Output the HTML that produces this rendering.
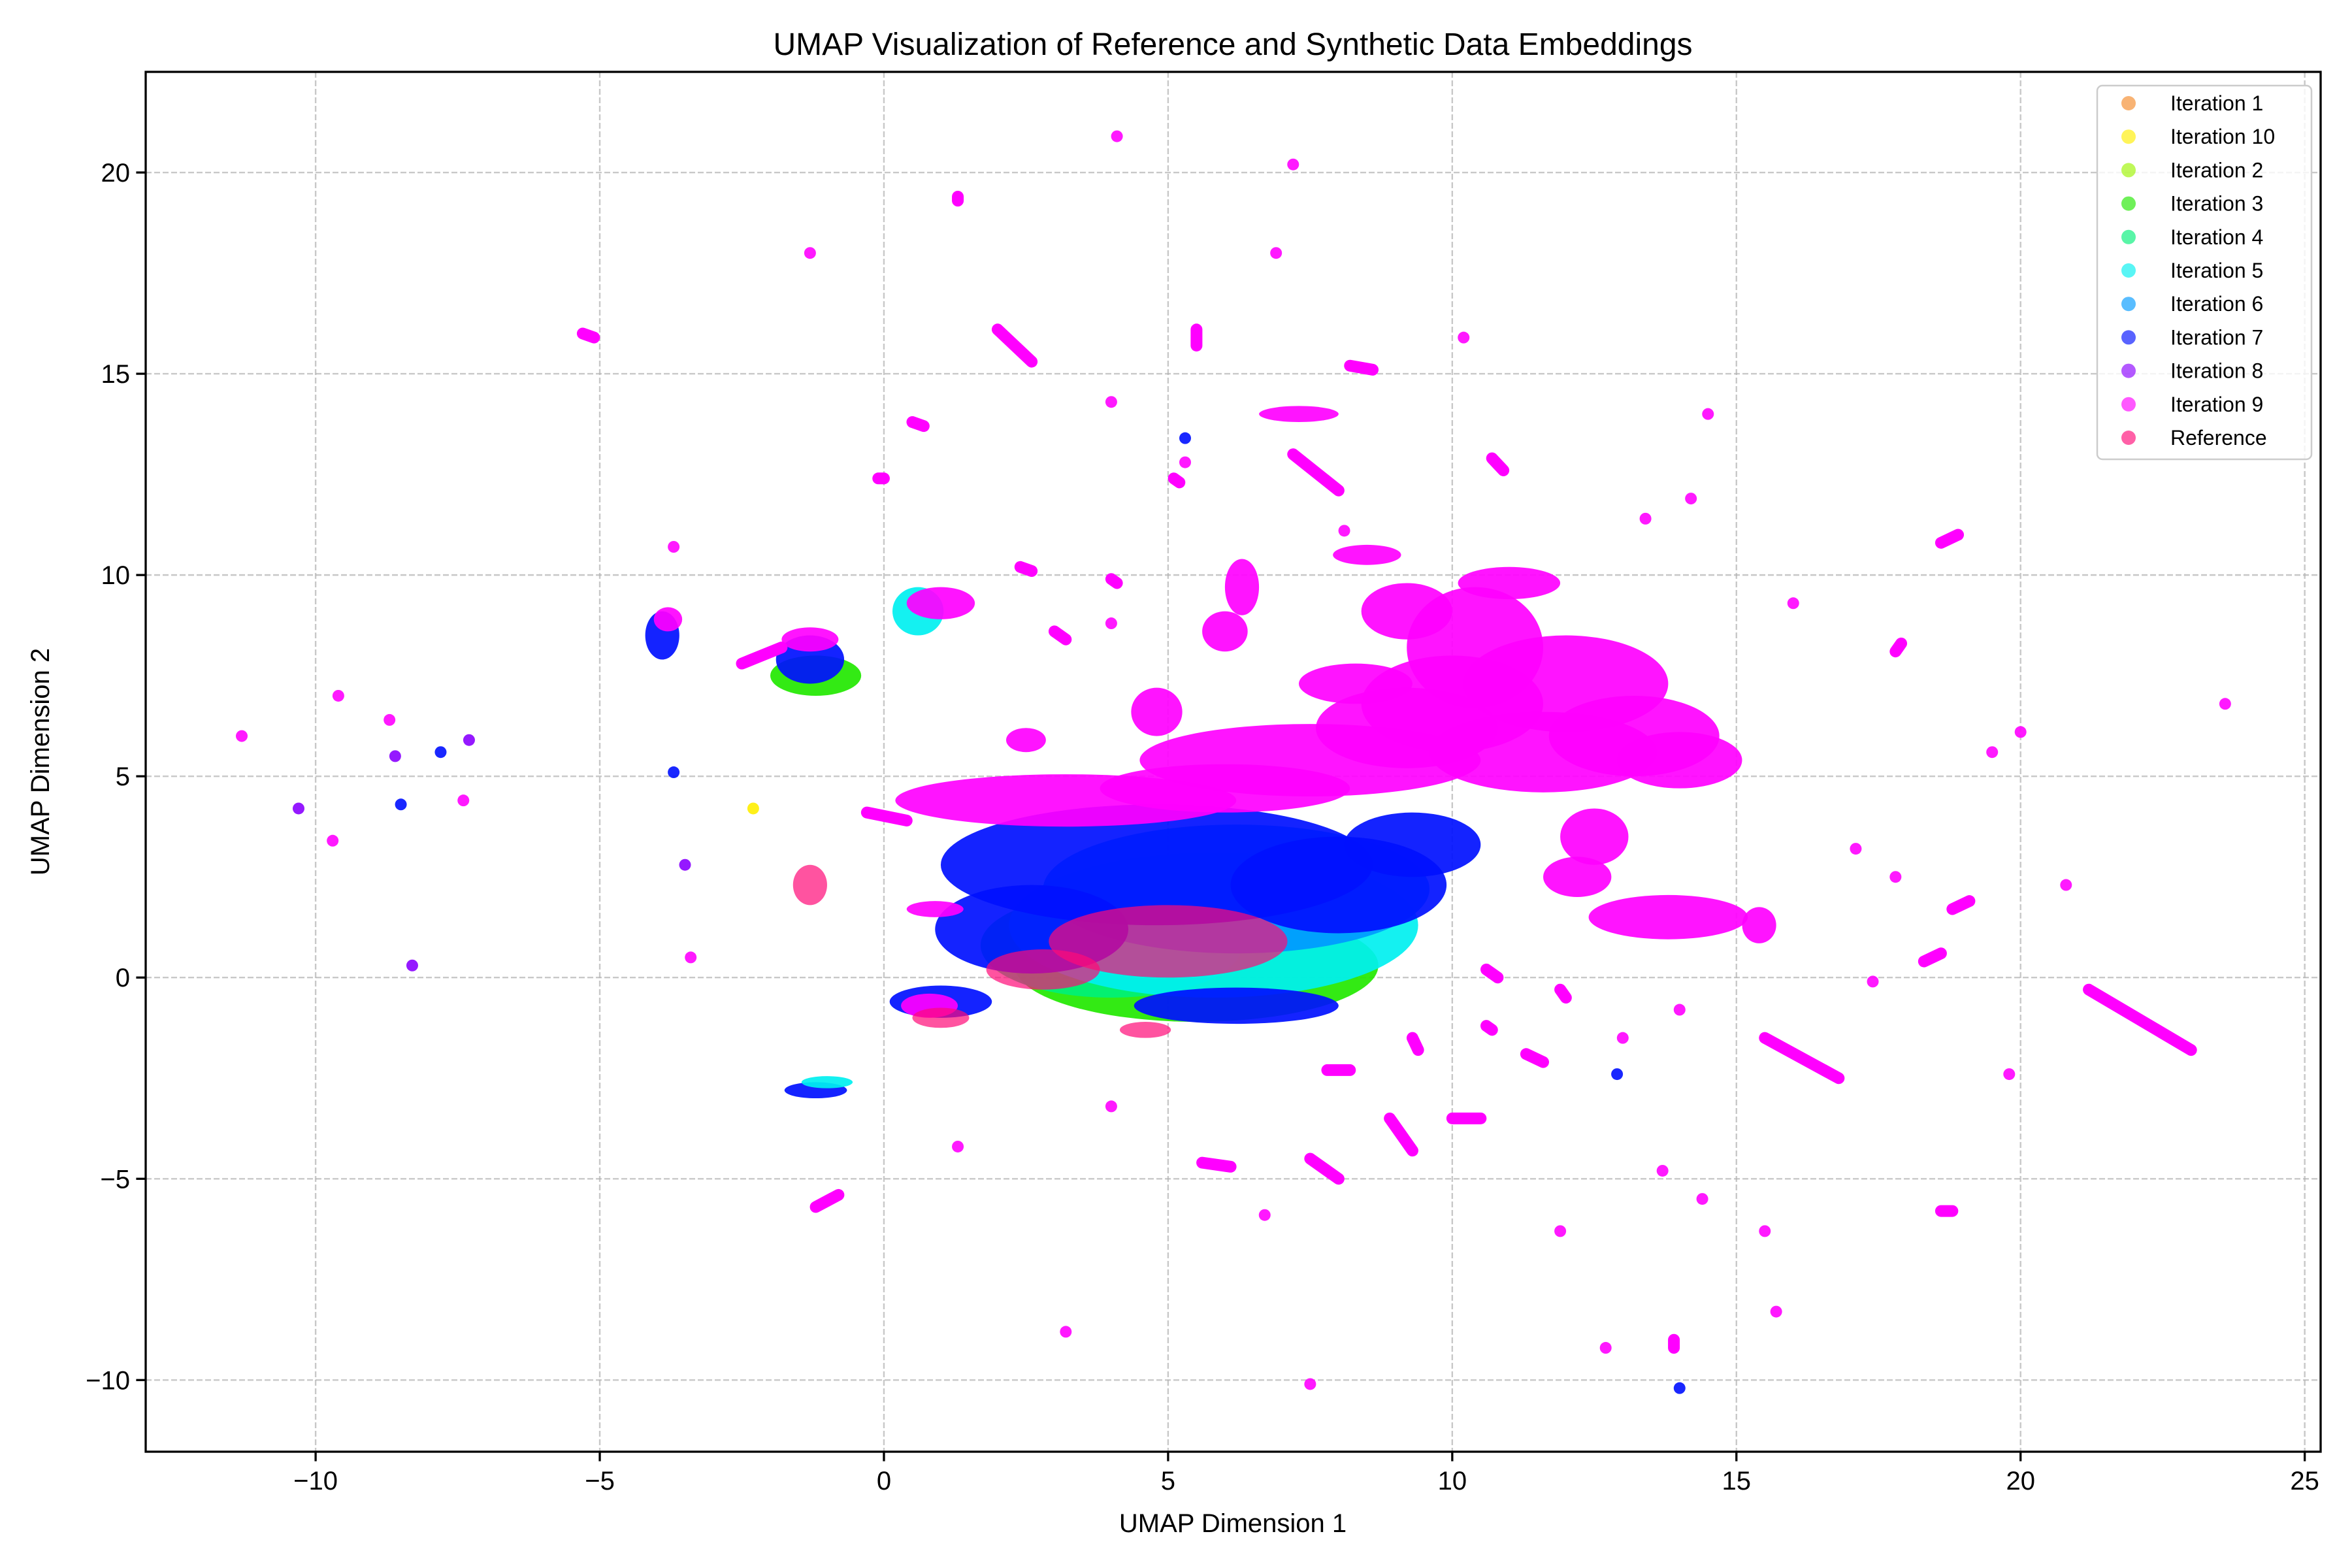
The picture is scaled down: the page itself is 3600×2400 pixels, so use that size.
<!DOCTYPE html>
<html><head><meta charset="utf-8">
<style>
html,body{margin:0;padding:0;background:#fff;}
svg{display:block;font-family:"Liberation Sans","DejaVu Sans",sans-serif;}
</style></head>
<body>
<svg id="chart" width="3600" height="2400" viewBox="0 0 3600 2400" xmlns="http://www.w3.org/2000/svg">
<rect x="0" y="0" width="3600" height="2400" fill="#fff"/>
<g id="grid"></g>
<g id="marks"></g>
<rect x="223" y="110" width="3329" height="2112" fill="none" stroke="#000" stroke-width="3.3"/>
<g id="axes"></g>
<text x="1887" y="84" text-anchor="middle" font-size="48">UMAP Visualization of Reference and Synthetic Data Embeddings</text>
<text x="1887" y="2345" text-anchor="middle" font-size="40">UMAP Dimension 1</text>
<text x="75" y="1166" text-anchor="middle" font-size="40" transform="rotate(-90 75 1166)">UMAP Dimension 2</text>
<g id="legend"></g>
</svg>
<script>
const xTicks=[-10,-5,0,5,10,15,20,25];
const yTicks=[-10,-5,0,5,10,15,20];
const seriesNames=["Iteration 1","Iteration 10","Iteration 2","Iteration 3","Iteration 4","Iteration 5","Iteration 6","Iteration 7","Iteration 8","Iteration 9","Reference"];
const seriesColors=["#f58a2a","#ffee00","#9cf500","#22e800","#00f078","#00f0f0","#0099ff","#0010ff","#8a00ff","#ff00ff","#ff0a78"];
// dense cluster regions: [seriesIndex, cx, cy, rx, ry]
const clusters=[
[3,5.5,0.3,3.2,1.4],[4,4,0.8,2.3,1.3],[5,5.8,1.3,3.6,1.8],[6,6.2,2.2,3.4,1.6],
[7,4.8,2.8,3.8,1.5],[7,8,2.3,1.9,1.2],[7,2.6,1.2,1.7,1.1],[7,6.2,-0.7,1.8,0.45],
[7,9.3,3.3,1.2,0.8],[7,1,-0.6,0.9,0.4],
[9,3.2,4.4,3,0.65],[9,6,4.7,2.2,0.6],[9,7.5,5.4,3,0.9],[9,9.2,6.2,1.6,1],[9,10,6.8,1.6,1.2],[9,10.4,8.2,1.2,1.5],
[9,12,7.3,1.8,1.2],[9,11.6,5.6,2,1],[9,13.2,6,1.5,1],[9,14,5.4,1.1,0.7],[9,9.2,9.1,0.8,0.7],[9,11,9.8,0.9,0.4],
[9,13.8,1.5,1.4,0.55],[9,12.2,2.5,0.6,0.5],[9,12.5,3.5,0.6,0.7],[9,15.4,1.3,0.3,0.45],[9,8.3,7.3,1,0.5],
[9,7.3,14,0.7,0.2],[9,6.3,9.7,0.3,0.7],[9,6,8.6,0.4,0.5],[9,4.8,6.6,0.45,0.6],
[9,0.9,1.7,0.5,0.2],[9,0.8,-0.7,0.5,0.3],[9,2.5,5.9,0.35,0.3],
[10,5,0.9,2.1,0.9],[10,2.8,0.2,1,0.5],[10,1,-1,0.5,0.25],[10,4.6,-1.3,0.45,0.2],
[3,-1.2,7.5,0.8,0.5],[7,-1.3,7.9,0.6,0.6],[9,-1.3,8.4,0.5,0.3],
[5,0.6,9.1,0.45,0.6],[9,1,9.3,0.6,0.4],[7,-3.9,8.5,0.3,0.6],[9,-3.8,8.9,0.25,0.3],
[10,-1.3,2.3,0.3,0.5],[7,-1.2,-2.8,0.55,0.2],[5,-1,-2.6,0.45,0.15],[9,8.5,10.5,0.6,0.25]
];
// trails of points: [seriesIndex, x1, y1, x2, y2]
const trails=[
[9,21.2,-0.3,23,-1.8],[9,2,16.1,2.6,15.3],[9,-5.3,16,-5.1,15.9],[9,0.5,13.8,0.7,13.7],
[9,10.7,12.9,10.9,12.6],[9,5.5,16.1,5.5,15.7],[9,8.2,15.2,8.6,15.1],[9,1.3,19.4,1.3,19.3],
[9,-1.2,-5.7,-0.8,-5.4],[9,8.9,-3.5,9.3,-4.3],[9,7.5,-4.5,8,-5],[9,5.6,-4.6,6.1,-4.7],
[9,10,-3.5,10.5,-3.5],[9,18.6,10.8,18.9,11],[9,17.8,8.1,17.9,8.3],[9,18.8,1.7,19.1,1.9],
[9,15.5,-1.5,16.8,-2.5],[9,11.3,-1.9,11.6,-2.1],[9,18.3,0.4,18.6,0.6],[9,-2.5,7.8,-1.8,8.2],
[9,7.8,-2.3,8.2,-2.3],[9,3,8.6,3.2,8.4],[9,2.4,10.2,2.6,10.1],[9,9.3,-1.5,9.4,-1.8],
[9,10.6,-1.2,10.7,-1.3],[9,11.9,-0.3,12,-0.5],[9,18.6,-5.8,18.8,-5.8],[9,10.6,0.2,10.8,0],
[9,4,9.9,4.1,9.8],[9,5.1,12.4,5.2,12.3],[9,-0.1,12.4,0,12.4],[9,13.9,-9,13.9,-9.2],
[9,7.2,13,8,12.1],[9,-0.3,4.1,0.4,3.9]
];
// isolated points: [seriesIndex, x, y]
const points=[
[9,-11.3,6],[8,-10.3,4.2],[9,-9.6,7],[9,-9.7,3.4],[9,-8.7,6.4],[8,-8.6,5.5],[7,-8.5,4.3],
[7,-7.8,5.6],[8,-7.3,5.9],[9,-7.4,4.4],[8,-8.3,0.3],[9,-3.7,10.7],[7,-3.7,5.1],[8,-3.5,2.8],
[9,-3.4,0.5],[1,-2.3,4.2],[9,-1.3,18],[9,4.1,20.9],[9,7.2,20.2],[9,6.9,18],[9,10.2,15.9],
[9,4,14.3],[9,14.5,14],[9,14.2,11.9],[9,13.4,11.4],[9,16,9.3],[9,23.6,6.8],[9,20,6.1],
[9,19.5,5.6],[9,20.8,2.3],[9,17.1,3.2],[9,17.8,2.5],[9,17.4,-0.1],[9,19.8,-2.4],
[9,3.2,-8.8],[9,6.7,-5.9],[9,7.5,-10.1],[9,11.9,-6.3],[9,12.7,-9.2],[9,13.7,-4.8],
[9,14.4,-5.5],[9,15.5,-6.3],[9,15.7,-8.3],[7,14,-10.2],[9,13,-1.5],[7,12.9,-2.4],
[9,14,-0.8],[9,4,-3.2],[9,1.3,-4.2],[7,5.3,13.4],[9,5.3,12.8],[9,4,8.8],[9,8.1,11.1]
];
const X0=223,X1=3552,Y0=110,Y1=2222,xmin=-12.99,xmax=25.28,ymin=-11.78,ymax=22.5;
const sx=v=>X0+(v-xmin)/(xmax-xmin)*(X1-X0);
const sy=v=>Y1-(v-ymin)/(ymax-ymin)*(Y1-Y0);
const NS="http://www.w3.org/2000/svg";
function mk(tag,attrs,parent){const e=document.createElementNS(NS,tag);for(const k in attrs)e.setAttribute(k,attrs[k]);parent.appendChild(e);return e;}
const grid=document.getElementById('grid'),axes=document.getElementById('axes'),marks=document.getElementById('marks'),legend=document.getElementById('legend');
xTicks.forEach(t=>{const x=sx(t);
 const g=mk('line',{x1:x,x2:x,y1:Y0,y2:Y1,stroke:'#b0b0b0','stroke-width':2.4,'stroke-dasharray':'9 4','stroke-opacity':0.7},grid);
 
 
 const tk=mk('line',{x1:x,x2:x,y1:Y1,y2:Y1+14.6,stroke:'#000','stroke-width':3.3},axes);
 
 
 const tl=mk('text',{x:x,y:Y1+58,'text-anchor':'middle','font-size':40},axes);tl.textContent=(t<0?'\u2212'+(-t):t);
 
 
});
yTicks.forEach(t=>{const y=sy(t);
 const g=mk('line',{x1:X0,x2:X1,y1:y,y2:y,stroke:'#b0b0b0','stroke-width':2.4,'stroke-dasharray':'9 4','stroke-opacity':0.7},grid);
 
 
 const tk=mk('line',{x1:X0-14.6,x2:X0,y1:y,y2:y,stroke:'#000','stroke-width':3.3},axes);
 
 
 const tl=mk('text',{x:X0-24,y:y+14,'text-anchor':'end','font-size':40},axes);tl.textContent=(t<0?'\u2212'+(-t):t);
 
 
});
const pxu=(X1-X0)/(xmax-xmin),pyu=(Y1-Y0)/(ymax-ymin);
clusters.forEach(c=>{
 const e=mk('ellipse',{cx:sx(c[1]),cy:sy(c[2]),rx:c[3]*pxu,ry:c[4]*pyu,fill:seriesColors[c[0]],'fill-opacity':c[0]===10?0.7:0.92},marks);
 
 
});
trails.forEach(t=>{
 const e=mk('line',{x1:sx(t[1]),y1:sy(t[2]),x2:sx(t[3]),y2:sy(t[4]),stroke:seriesColors[t[0]],'stroke-width':18,'stroke-linecap':'round'},marks);
 
 
});
points.forEach(p=>{
 const e=mk('circle',{cx:sx(p[1]),cy:sy(p[2]),r:9,fill:seriesColors[p[0]],'fill-opacity':0.9},marks);
 
 
});
mk('rect',{x:3210,y:131,width:328,height:572,rx:8,fill:'#fff','fill-opacity':0.8,stroke:'#ccc','stroke-width':2.5},legend);
seriesNames.forEach((n,i)=>{const y=158+i*51.2;
 const c=mk('circle',{cx:3258,cy:y,r:11,fill:seriesColors[i],'fill-opacity':0.65},legend);
 
 
 const t=mk('text',{x:3322,y:y+11,'font-size':32},legend);t.textContent=n;
 
 
});
</script>
</body></html>
